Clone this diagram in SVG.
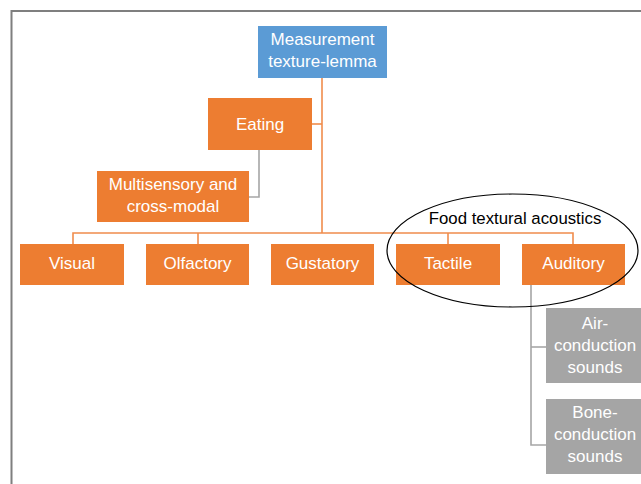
<svg xmlns="http://www.w3.org/2000/svg" width="641" height="484" viewBox="0 0 641 484">
<style>
.t{font-family:"Liberation Sans",Arial,sans-serif;font-size:17px;fill:#ffffff;text-anchor:middle}
.o{fill:#ed7d31}
.b{fill:#5b9bd5}
.g{fill:#a5a5a5}
.lo{stroke:#f08c4c;stroke-width:1.6;fill:none}
.lg{stroke:#a6a6a6;stroke-width:1.6;fill:none}
</style>
<rect width="641" height="484" fill="#ffffff"/>
<path d="M11.5,484 V11 H641" stroke="#7f7f7f" stroke-width="2" fill="none"/>
<g id="connectors">
<path class="lo" d="M322,78 V233"/>
<path class="lo" d="M312,124 H322"/>
<path class="lo" d="M73,244 V233 H573 V244"/>
<path class="lo" d="M198,233 V244"/>
<path class="lo" d="M448,233 V244"/>
<path class="lg" d="M259,150 V197 H249"/>
<path class="lg" d="M531,285 V445 H546"/>
<path class="lg" d="M531,347 H546"/>
</g>
<g id="measurement"><rect class="b" x="258" y="26" width="129" height="52"/><text class="t" x="322.5" y="45">Measurement</text><text class="t" x="322.5" y="67">texture-lemma</text></g>
<g id="eating"><rect class="o" x="208" y="98" width="104" height="52"/><text class="t" x="260" y="130">Eating</text></g>
<g id="multisensory"><rect class="o" x="97" y="171" width="152" height="51"/><text class="t" x="173" y="190">Multisensory and</text><text class="t" x="173" y="212">cross-modal</text></g>
<g id="visual"><rect class="o" x="20" y="244" width="104" height="41"/><text class="t" x="72" y="269">Visual</text></g>
<g id="olfactory"><rect class="o" x="146" y="244" width="103" height="41"/><text class="t" x="197.5" y="269">Olfactory</text></g>
<g id="gustatory"><rect class="o" x="271" y="244" width="103" height="41"/><text class="t" x="322.5" y="269">Gustatory</text></g>
<g id="tactile"><rect class="o" x="396" y="244" width="104" height="41"/><text class="t" x="448" y="269">Tactile</text></g>
<g id="auditory"><rect class="o" x="522" y="244" width="103" height="41"/><text class="t" x="573.5" y="269">Auditory</text></g>
<g id="air"><rect class="g" x="546" y="308" width="100" height="75"/><text class="t" x="595" y="329">Air-</text><text class="t" x="595" y="351">conduction</text><text class="t" x="595" y="373">sounds</text></g>
<g id="bone"><rect class="g" x="546" y="399" width="100" height="75"/><text class="t" x="595" y="418">Bone-</text><text class="t" x="595" y="440">conduction</text><text class="t" x="595" y="462">sounds</text></g>
<g id="food-textural-acoustics"><ellipse cx="512.5" cy="250.5" rx="125.5" ry="56.5" fill="none" stroke="#000000" stroke-width="1.2"/><text x="515" y="224" style="font-family:'Liberation Sans',Arial,sans-serif;font-size:16.8px;fill:#000000;text-anchor:middle">Food textural acoustics</text></g>
</svg>
